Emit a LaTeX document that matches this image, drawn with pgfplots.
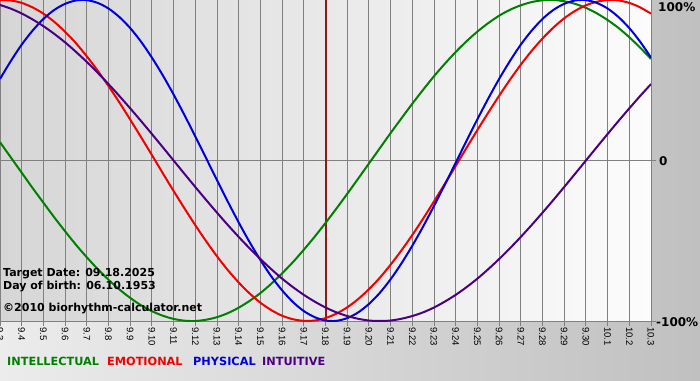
\documentclass[border=0pt]{standalone}
\usepackage{pgfplots}
\usepackage{pgfplotstable}
\pgfplotsset{compat=1.18}
\usepackage{fontspec}
\setmainfont{DejaVu Sans}
\newfontfamily\tickfont{Liberation Sans}
\definecolor{bgl}{RGB}{236,236,236}
\definecolor{bgr}{RGB}{192,192,192}
\definecolor{pl}{RGB}{214,214,214}
\definecolor{pr}{RGB}{252,252,252}
\definecolor{gridc}{RGB}{128,128,128}
\definecolor{cint}{RGB}{0,128,0}
\definecolor{cemo}{RGB}{240,0,0}
\definecolor{cphy}{RGB}{0,0,220}
\definecolor{cintu}{RGB}{75,0,130}
\definecolor{target}{RGB}{139,26,26}
\pgfplotstableread{
t int emo phy intu
0 11.4 99.9 50.8 96.9
0.5 1.9 99.7 62.0 94.6
1 -7.6 98.2 72.2 91.6
1.5 -17.1 95.4 80.9 87.9
2 -26.3 91.5 88.2 83.7
2.5 -35.4 86.4 93.8 78.9
3 -44.1 80.2 97.6 73.6
3.5 -52.5 73.1 99.7 67.7
4 -60.3 64.9 99.9 61.4
4.5 -67.6 56.0 98.2 54.7
5 -74.3 46.4 94.7 47.6
5.5 -80.3 36.2 89.4 40.2
6 -85.6 25.5 82.5 32.5
6.5 -90.2 14.5 74.0 24.6
7 -93.9 3.4 64.1 16.5
7.5 -96.7 -7.9 53.1 8.3
8 -98.7 -19.0 41.1 0.0
8.5 -99.8 -29.8 28.3 -8.3
9 -100.0 -40.3 15.0 -16.5
9.5 -99.2 -50.3 1.4 -24.6
10 -97.6 -59.7 -12.3 -32.5
10.5 -95.1 -68.3 -25.7 -40.2
11 -91.7 -76.0 -38.6 -47.6
11.5 -87.5 -82.8 -50.8 -54.7
12 -82.6 -88.6 -62.0 -61.4
12.5 -76.8 -93.2 -72.2 -67.7
13 -70.3 -96.7 -80.9 -73.6
13.5 -63.3 -98.9 -88.2 -78.9
14 -55.6 -99.9 -93.8 -83.7
14.5 -47.5 -99.7 -97.6 -87.9
15 -38.9 -98.2 -99.7 -91.6
15.5 -30.0 -95.4 -99.9 -94.6
16 -20.8 -91.5 -98.2 -96.9
16.5 -11.4 -86.4 -94.7 -98.6
17 -1.9 -80.2 -89.4 -99.7
17.5 7.6 -73.1 -82.5 -100.0
18 17.1 -64.9 -74.0 -99.7
18.5 26.3 -56.0 -64.1 -98.6
19 35.4 -46.4 -53.1 -96.9
19.5 44.1 -36.2 -41.1 -94.6
20 52.5 -25.5 -28.3 -91.6
20.5 60.3 -14.5 -15.0 -87.9
21 67.6 -3.4 -1.4 -83.7
21.5 74.3 7.9 12.3 -78.9
22 80.3 19.0 25.7 -73.6
22.5 85.6 29.8 38.6 -67.7
23 90.2 40.3 50.8 -61.4
23.5 93.9 50.3 62.0 -54.7
24 96.7 59.7 72.2 -47.6
24.5 98.7 68.3 80.9 -40.2
25 99.8 76.0 88.2 -32.5
25.5 100.0 82.8 93.8 -24.6
26 99.2 88.6 97.6 -16.5
26.5 97.6 93.2 99.7 -8.3
27 95.1 96.7 99.9 0.0
27.5 91.7 98.9 98.2 8.3
28 87.5 99.9 94.7 16.5
28.5 82.6 99.7 89.4 24.6
29 76.8 98.2 82.5 32.5
29.5 70.3 95.4 74.0 40.2
30 63.3 91.5 64.1 47.6
}\bio
\begin{document}
\begin{tikzpicture}[x=1pt,y=1pt]
\shade[left color=bgl, right color=bgr] (0,0) rectangle (700,380);
\begin{axis}[
  at={(0pt,59pt)}, anchor=south west,
  scale only axis, width=651pt, height=321pt,
  xmin=0, xmax=30, ymin=-100, ymax=100,
  axis background/.style={shade, left color=pl, right color=pr},
  axis line style={gridc, line width=1pt},
  xtick={0,...,30},
  xticklabels={9.3,9.4,9.5,9.6,9.7,9.8,9.9,9.10,9.11,9.12,9.13,9.14,9.15,9.16,9.17,9.18,9.19,9.20,9.21,9.22,9.23,9.24,9.25,9.26,9.27,9.28,9.29,9.30,10.1,10.2,10.3},
  xticklabel style={rotate=-90, anchor=west, inner sep=1pt, font=\tickfont\fontsize{9.5}{10}\selectfont},
  ytick={-100,0,100}, yticklabels={},
  xtick pos=bottom, ytick pos=right,
  tick align=outside, major tick length=5pt,
  tick style={gridc, line width=1pt},
  xmajorgrids, ymajorgrids,
  grid style={gridc, line width=1pt},
  every axis plot/.append style={line width=2pt, smooth},
]
\addplot[target, line width=2pt, sharp plot] coordinates {(15,-100) (15,100)};
\addplot[cint] table[x=t, y=int] {\bio};
\addplot[cemo] table[x=t, y=emo] {\bio};
\addplot[cphy] table[x=t, y=phy] {\bio};
\addplot[cintu] table[x=t, y=intu] {\bio};
\end{axis}
\begin{scope}[every node/.style={inner sep=0pt, font=\bfseries\fontsize{11}{13}\selectfont}]
\node[anchor=base west] at (3,104) {Target Date: 09.18.2025};
\node[anchor=base west] at (3,91) {Day of birth: 06.10.1953};
\node[anchor=base west] at (3,69) {©2010 biorhythm-calculator.net};
\end{scope}
\begin{scope}[every node/.style={inner sep=0pt, anchor=base west, font=\bfseries\fontsize{11.3}{13}\selectfont}]
\node[text=cint] at (7,15) {INTELLECTUAL};
\node[text=cemo] at (107,15) {EMOTIONAL};
\node[text=cphy] at (193,15) {PHYSICAL};
\node[text=cintu] at (262,15) {INTUITIVE};
\end{scope}
\begin{scope}[every node/.style={inner sep=0pt, anchor=base west, font=\bfseries\fontsize{12}{14}\selectfont}]
\node at (658,368) {100\%};
\node at (659,214) {0};
\node at (656,54) {-100\%};
\end{scope}
\pgfresetboundingbox
\useasboundingbox (0,0) rectangle (700,380);
\end{tikzpicture}
\end{document}
